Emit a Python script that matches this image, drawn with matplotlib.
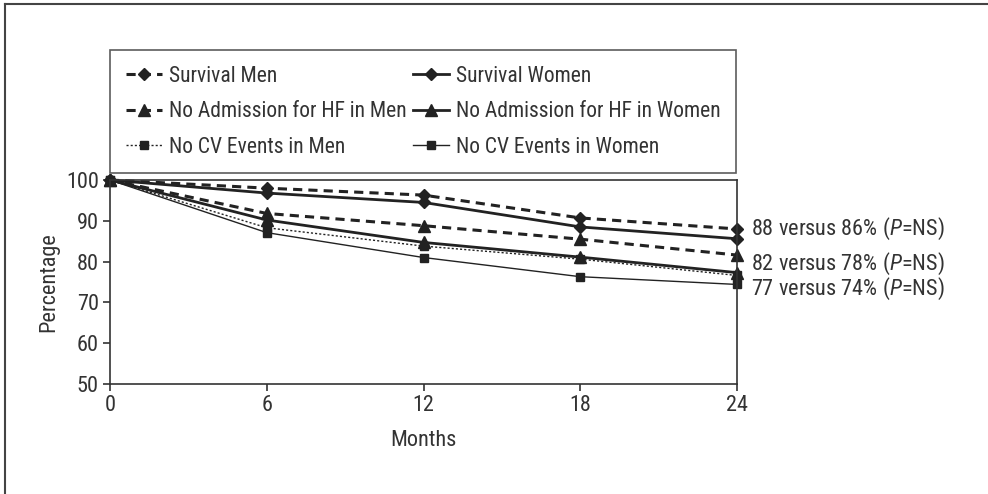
import matplotlib
matplotlib.use("Agg")
import matplotlib.pyplot as plt
from matplotlib.lines import Line2D

plt.rcParams['font.family'] = ['Roboto Condensed', 'DejaVu Sans']
plt.rcParams['mathtext.fontset'] = 'custom'
plt.rcParams['mathtext.rm'] = 'Roboto Condensed'
plt.rcParams['mathtext.it'] = 'Roboto Condensed:italic'

# Data
months = [0, 6, 12, 18, 24]
survival_men = [100, 98.0, 96.3, 90.7, 88.0]
survival_women = [100, 96.8, 94.5, 88.5, 85.6]
hf_men = [100, 91.8, 88.8, 85.5, 81.6]
hf_women = [100, 90.2, 84.7, 81.1, 77.3]
cv_men = [100, 88.3, 83.8, 80.6, 76.6]
cv_women = [100, 87.1, 81.0, 76.3, 74.4]
end_labels = ["88 versus 86% ($P$=NS)", "82 versus 78% ($P$=NS)", "77 versus 74% ($P$=NS)"]
end_label_y = [88.0, 79.5, 73.3]

ink = '#222222'
fsize = 16
leg_size = 15.5

fig = plt.figure(figsize=(9.88, 4.94), dpi=100)
ax = fig.add_axes([110/988, 1-384/494, 627/988, 204/494])

# outer frame (only top and left edges visible)
fig.add_artist(Line2D([5/988, 5/988], [-0.01, 1-4/494], transform=fig.transFigure, color='#444444', lw=1.5))
fig.add_artist(Line2D([5/988, 1.01], [1-4/494, 1-4/494], transform=fig.transFigure, color='#444444', lw=1.5))

sm, = ax.plot(months, survival_men, color=ink, ls=(0, (3, 2)), lw=2.2, marker='D', ms=6.5, label='Survival Men', clip_on=False)
sw, = ax.plot(months, survival_women, color=ink, ls='-', lw=2.0, marker='D', ms=6.5, label='Survival Women', clip_on=False)
hm, = ax.plot(months, hf_men, color=ink, ls=(0, (3, 2)), lw=2.2, marker='^', ms=8.5, label='No Admission for HF in Men', clip_on=False)
hw, = ax.plot(months, hf_women, color=ink, ls='-', lw=2.0, marker='^', ms=8.5, label='No Admission for HF in Women', clip_on=False)
cm, = ax.plot(months, cv_men, color=ink, ls=(0, (1.5, 1.5)), lw=1.0, marker='s', ms=5.5, label='No CV Events in Men', clip_on=False)
cw, = ax.plot(months, cv_women, color=ink, ls='-', lw=1.0, marker='s', ms=5.5, label='No CV Events in Women', clip_on=False)

ax.set_xlim(0, 24)
ax.set_ylim(50, 100)
ax.set_xticks(months)
ax.set_yticks([50, 60, 70, 80, 90, 100])
ax.tick_params(direction='out', length=5, width=1.2, colors='#333333', labelsize=fsize, pad=3)
for s in ax.spines.values():
    s.set_color('#333333')
    s.set_linewidth(1.2)

ax.set_xlabel('Months', fontsize=fsize, color='#333333', labelpad=10)
ax.set_ylabel('Percentage', fontsize=fsize, color='#333333', labelpad=5)

for txt, yv in zip(end_labels, end_label_y):
    ax.annotate(txt, xy=(24, yv), xytext=(10, 0), textcoords='offset points',
                va='center', ha='left', fontsize=fsize, color='#333333', annotation_clip=False)

# legend: men in the left column, women in the right column
handles = [sm, hm, cm, sw, hw, cw]
leg = fig.legend(handles=handles, labels=[h.get_label() for h in handles],
                 loc='upper left', ncol=2,
                 bbox_to_anchor=(110/988, 1-50/494),
                 bbox_transform=fig.transFigure, borderaxespad=0,
                 frameon=True, fancybox=False, fontsize=leg_size, handlelength=1.7,
                 labelspacing=0.68, borderpad=0.72, handletextpad=0.3, columnspacing=0.3)
leg.get_frame().set_edgecolor('#333333')
leg.get_frame().set_linewidth(1.2)
for t in leg.get_texts():
    t.set_color('#333333')

fig.savefig('out.png', dpi=100)
